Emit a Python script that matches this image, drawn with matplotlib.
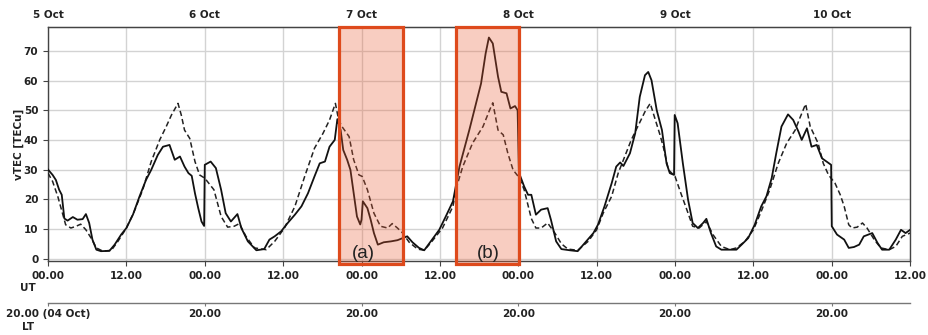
import matplotlib
matplotlib.use("Agg")
import matplotlib.pyplot as plt
from matplotlib.patches import Rectangle

# ---- data (hours since 5 Oct 00:00 UT) ----
obs_hours = [0, 0.7, 1.2, 1.7, 2.1, 2.5, 3.0, 3.8, 4.5, 5.3, 5.8, 6.3, 6.8, 7.4, 8.1, 9.4, 10.2,
             11.2, 12.0, 13.0, 14.0, 15.0, 15.8, 16.8, 17.6, 18.6, 19.4, 20.2, 20.9, 21.5, 22.0,
             22.5, 23.0, 23.5, 23.9, 24.0, 24.9, 25.7, 26.5, 27.2, 28.0, 29.0, 29.6, 30.6, 31.9,
             33.1, 33.9, 34.7, 35.7, 36.7, 37.8, 38.8, 39.8, 40.8, 41.6, 42.4, 43.1, 43.9, 44.3,
             44.8, 45.2, 45.8, 46.3, 46.8, 47.3, 47.8, 48.0, 48.2, 48.9, 49.4, 49.9, 50.5, 51.4,
             52.5, 53.5, 54.3, 55.0, 55.8, 56.8, 57.6, 58.6, 59.9, 60.9, 62.0, 63.0, 64.5, 66.3,
             67.0, 67.5, 68.1, 68.9, 69.4, 70.2, 70.8, 71.5, 71.9, 72.1, 72.9, 73.5, 74.0, 74.7,
             75.5, 76.5, 77.0, 77.8, 78.6, 79.9, 81.1, 82.2, 83.5, 84.2, 85.2, 86.3, 87.0, 87.6,
             88.1, 89.1, 89.9, 90.6, 91.4, 91.9, 92.4, 93.2, 94.0, 94.7, 95.2, 95.85, 95.95, 96.4,
             97.2, 98.0, 98.7, 99.5, 100.3, 100.8, 101.5, 102.3, 103.1, 104.6, 105.4, 106.2,
             107.2, 108.2, 109.2, 110.0, 110.8, 111.5, 112.3, 113.3, 114.1, 114.9, 115.4, 116.2,
             116.9, 117.7, 118.5, 119.2, 119.9, 120.0, 120.8, 121.9, 122.6, 123.4, 124.2, 124.9,
             126.2, 127.0, 127.7, 128.8, 129.8, 130.6, 131.3, 132.0]
obs_vtec = [30.0, 28.2, 26.5, 23.2, 21.5, 13.5, 12.8, 14.0, 13.1, 13.3, 15.0, 12.0, 6.4, 3.0, 2.5,
            2.6, 4.7, 8.1, 10.3, 14.8, 20.9, 26.5, 29.9, 34.9, 37.7, 38.3, 33.3, 34.4, 31.0, 28.8,
            27.9, 22.0, 17.0, 12.5, 11.0, 31.6, 32.7, 30.5, 23.2, 15.3, 12.5, 15.0, 10.3, 5.8, 2.8,
            3.2, 6.4, 7.5, 9.2, 12.0, 14.8, 17.6, 22.0, 27.7, 32.1, 32.7, 37.7, 40.0, 47.0,
            43.3, 36.6, 33.3, 29.9, 22.0, 14.2, 11.5, 13.1, 19.3, 17.0, 13.1, 8.6, 4.7, 5.5,
            5.8, 6.2, 6.9, 7.5, 5.5, 3.6, 2.8, 5.8, 9.7, 14.2, 19.3, 31.0, 43.3, 59.0,
            69.1, 74.5, 72.5, 61.3, 56.2, 55.7, 50.6, 51.4, 50.0, 29.0, 24.3, 21.5, 21.5, 14.8,
            16.5, 17.0, 13.1, 5.8, 3.2, 2.8, 2.5, 5.3, 8.6, 11.4, 17.6, 25.4, 31.0, 32.4,
            31.2, 35.5, 42.2, 54.5, 61.8, 62.9, 60.1, 50.0, 43.3, 32.1, 28.8, 28.2, 48.4, 45.6,
            32.1, 19.8, 12.0, 10.3, 12.0, 13.4, 8.6, 4.1, 3.0, 3.0, 3.0, 4.7,
            6.9, 11.4, 17.6, 21.0, 27.1, 35.5, 44.5, 48.6, 46.7, 42.8, 40.0, 43.9,
            37.7, 38.3, 33.8, 32.7, 31.6, 10.9, 8.1, 6.4, 3.6, 3.9, 4.7, 7.5,
            8.6, 5.3, 3.0, 3.0, 6.4, 9.7, 8.6, 9.7]

ref_hours = [0, 0.7, 1.5, 2.2, 2.7, 3.5, 4.3, 5.0, 5.8, 6.6, 7.4, 8.4, 9.7, 10.7, 12.0, 13.2, 14.5,
             15.8, 17.1, 18.1, 18.9, 19.9, 20.4, 20.9, 21.7, 22.5, 23.2, 24.0, 24.8, 25.4, 26.5,
             27.5, 28.5, 29.3, 30.3, 31.6, 33.4, 34.7, 36.2, 37.8, 39.3, 40.8, 42.1, 43.1, 44.0,
             44.5, 45.0, 46.1, 46.8, 47.6, 48.1, 48.9, 49.9, 50.9, 52.0, 52.7, 53.5, 54.3, 55.3,
             56.6, 57.6, 58.6, 60.4, 62.0, 62.5, 63.5, 65.0, 66.6, 67.6, 68.1, 68.9, 69.7, 70.4,
             71.2, 72.2, 72.9, 74.0, 74.7, 75.5, 76.5, 77.6, 78.6, 79.6, 81.1, 82.7, 84.0, 85.0,
             86.3, 87.3, 88.3, 89.3, 90.4, 91.4, 92.2, 93.0, 93.7, 94.2, 95.0, 96.0, 96.9, 98.0,
             98.7, 99.7, 100.8, 101.8, 103.1, 104.4, 105.4, 106.7, 108.0, 109.2, 110.5, 111.8,
             113.1, 114.4, 115.1, 116.0, 116.7, 117.2, 117.9, 118.7, 119.5, 120.5, 121.3, 121.9,
             122.6, 123.1, 123.9, 124.7, 125.4, 126.5, 127.5, 128.8, 129.8, 130.8, 132.0]
ref_vtec = [28.8, 26.0, 20.9, 15.3, 11.4, 10.3, 10.9, 11.6, 9.7, 6.9, 3.6, 2.5, 2.8, 5.8, 10.3, 15.9,
            23.2, 32.7, 40.0, 44.5, 48.4, 52.3, 48.4, 43.3, 40.5, 32.7, 28.2, 27.1, 24.9, 23.2,
            14.2, 10.6, 10.9, 11.8, 7.5, 3.6, 3.0, 5.8, 10.3, 17.6, 27.7, 37.2, 42.2, 46.7, 52.3,
            46.7, 44.5, 41.1, 33.3, 28.2, 27.7, 23.2, 15.3, 10.9, 10.3, 11.8, 10.3, 8.6, 5.5,
            3.2, 2.8, 5.3, 10.3, 17.6, 23.7, 31.0, 38.9, 44.5, 50.0, 52.5, 43.3, 41.7, 35.5,
            29.9, 27.1, 23.2, 13.5, 10.3, 10.3, 12.0, 8.6, 5.0, 3.2, 2.8, 5.8, 9.7, 15.3,
            21.0, 28.8, 34.4, 40.0, 45.0, 49.5, 52.3, 46.7, 41.7, 37.7, 29.9, 27.7, 22.0, 15.3,
            10.9, 10.3, 12.5, 8.1, 4.1, 3.0, 3.6, 5.8, 9.7, 15.9, 23.2, 32.1,
            38.9, 43.3, 47.3, 52.1, 44.5, 42.2, 38.9, 32.1, 28.2, 25.4, 21.5, 17.6,
            11.4, 10.3, 10.6, 12.0, 10.3, 6.4, 3.6, 3.0, 4.1, 7.5, 8.6]

ut_ticks = [0, 12, 24, 36, 48, 60, 72, 84, 96, 108, 120, 132]
ut_labels = ["00.00", "12.00", "00.00", "12.00", "00.00", "12.00",
             "00.00", "12.00", "00.00", "12.00", "00.00", "12.00"]
day_ticks = [0, 24, 48, 72, 96, 120]
day_labels = ["5 Oct", "6 Oct", "7 Oct", "8 Oct", "9 Oct", "10 Oct"]
lt_labels = ["20.00 (04 Oct)", "20.00", "20.00", "20.00", "20.00", "20.00"]
y_ticks = [0, 10, 20, 30, 40, 50, 60, 70]
box_starts = [44.6, 62.4]
box_ends = [54.4, 72.1]
box_labels = ["(a)", "(b)"]
box_label_x = [48.3, 67.4]

# ---- figure ----
fs = 7.5
tc = "#222222"
fig = plt.figure(figsize=(9.29, 3.35), dpi=100)
ax = fig.add_axes([0.0517, 0.221, 0.928, 0.698])

ax.plot(ref_hours, ref_vtec, color="#222222", lw=1.1, linestyle=(0, (3.5, 2.0)), zorder=3)
ax.plot(obs_hours, obs_vtec, color="#111111", lw=1.3, zorder=4)

ax.set_xlim(0, 132)
ax.set_ylim(-0.8, 78)
ax.set_xticks(ut_ticks)
ax.set_xticklabels(ut_labels, fontsize=fs, fontweight="bold", color=tc)
ax.set_yticks(y_ticks)
ax.set_yticklabels([str(v) for v in y_ticks], fontsize=fs, fontweight="bold", color=tc)
ax.grid(True, color="#d3d3d3", lw=1.0, zorder=0)
ax.set_axisbelow(True)
for s in ax.spines.values():
    s.set_color("#444444")
    s.set_linewidth(1.0)
ax.tick_params(colors="#444444", labelcolor=tc)
ax.set_ylabel("vTEC [TECu]", fontsize=fs, fontweight="bold", color=tc, labelpad=0)

# top day labels
top = ax.secondary_xaxis("top")
top.set_xticks(day_ticks)
top.set_xticklabels(day_labels, fontsize=fs, fontweight="bold", color=tc)
top.tick_params(length=0, pad=5)
top.spines["top"].set_color("#444444")

# LT axis
lt = ax.secondary_xaxis(-0.18)
lt.set_xticks(day_ticks)
lt.set_xticklabels(lt_labels, fontsize=fs, fontweight="bold", color=tc)
lt.tick_params(length=2.5, pad=2.0, colors="#777777", labelcolor=tc)
lt.spines["bottom"].set_color("#777777")
lt.spines["bottom"].set_linewidth(1.0)

fig.text(28 / 929, 1 - 288 / 335, "UT", fontsize=fs, fontweight="bold", color=tc,
         ha="center", va="center")
fig.text(28 / 929, 1 - 327 / 335, "LT", fontsize=fs, fontweight="bold", color=tc,
         ha="center", va="center")

# highlighted intervals
for x0, x1, lab, lx in zip(box_starts, box_ends, box_labels, box_label_x):
    r = Rectangle((x0, -1.8), x1 - x0, 78 + 1.8, facecolor=(0.92, 0.36, 0.2, 0.3),
                  edgecolor="#de4a1c", lw=2.3, clip_on=False, zorder=5)
    ax.add_patch(r)
    ax.text(lx, 1.6, lab, fontsize=13.5, family="Liberation Sans",
            color="#222222", ha="center", va="center", zorder=6)

fig.savefig("out.png", dpi=100)
